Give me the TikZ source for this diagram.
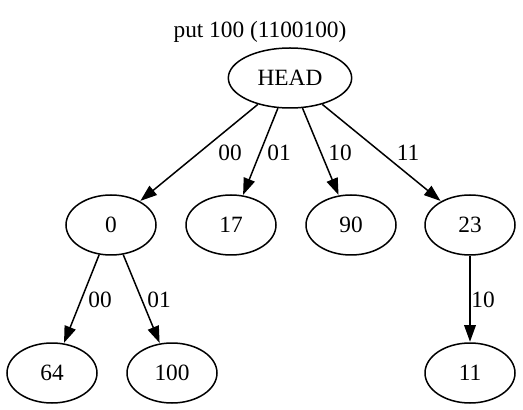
\documentclass[tikz,border=0pt]{standalone}
\usepackage{fontspec}
\setmainfont{Liberation Serif}
\usetikzlibrary{shapes.geometric,arrows.meta}

\begin{document}
\begin{tikzpicture}[x=0.6pt,y=-0.6pt,
  every node/.style={font=\fontsize{14pt}{16pt}\selectfont},
  trienode/.style={draw, ellipse, line width=0.9pt, inner sep=0pt,
    minimum width=54pt, minimum height=36pt},
  headnode/.style={trienode, minimum width=74pt},
  edge/.style={draw, line width=0.9pt,
    -{Triangle[length=10pt,width=7pt]}, shorten >=0.3pt},
  edgelabel/.style={inner sep=0pt}]
  \useasboundingbox (0,0) rectangle (523,410);

  % title
  \node[anchor=base] (title) at (260,38) {put 100 (1100100)};

  % trie nodes
  \node[headnode] (head) at (290,78) {HEAD};
  \node[trienode] (n0)   at (111,225) {0};
  \node[trienode] (n17)  at (231,225) {17};
  \node[trienode] (n90)  at (351,225) {90};
  \node[trienode] (n23)  at (470,225) {23};
  \node[trienode] (n64)  at (52,373)  {64};
  \node[trienode] (n100) at (172,373) {100};
  \node[trienode] (n11)  at (470,373) {11};

  % branches
  \draw[edge] (head) -- (n0);
  \draw[edge] (head) -- (n17);
  \draw[edge] (head) -- (n90);
  \draw[edge] (head) -- (n23);
  \draw[edge] (n0) -- (n64);
  \draw[edge] (n0) -- (n100);
  \draw[edge] (n23) -- (n11);

  % branch labels
  \node[edgelabel] (l00)  at (230,153) {00};
  \node[edgelabel] (l01)  at (279,153) {01};
  \node[edgelabel] (l10)  at (340,153) {10};
  \node[edgelabel] (l11)  at (408,153) {11};
  \node[edgelabel] (l000) at (100,300) {00};
  \node[edgelabel] (l001) at (159,300) {01};
  \node[edgelabel] (l231) at (483,300) {10};
\end{tikzpicture}
\end{document}
